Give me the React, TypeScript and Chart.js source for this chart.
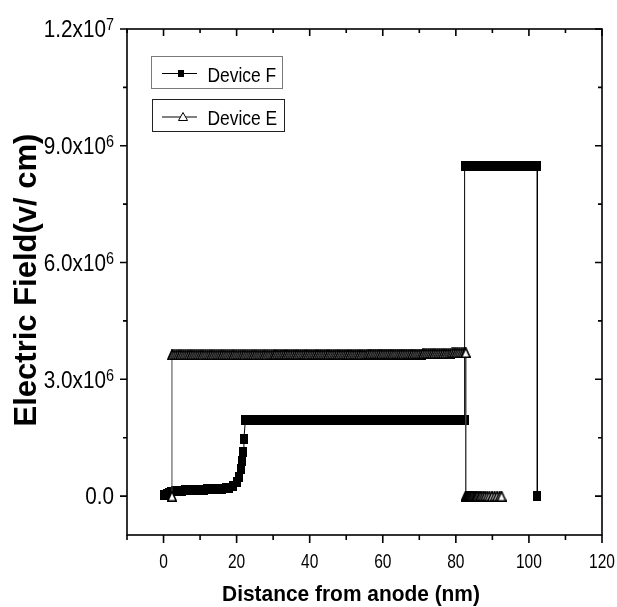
import React, { useEffect, useRef } from "react";
import { Chart, registerables } from "chart.js";

Chart.register(...registerables);

// ---------------- data ----------------
const seriesNames = ["Device F", "Device E"];

const xF = [
  0, 0.5, 1, 1.5, 2, 3, 4, 5, 6, 7,
  8, 9, 10, 11, 12, 13, 14, 15, 16, 17,
  18, 19, 20, 20.7, 21.2, 21.6, 21.8, 22,
  22.4, 23, 24, 25, 26, 27, 28, 29, 30, 31,
  32, 33, 34, 35, 36, 37, 38, 39, 40, 41,
  42, 43, 44, 45, 46, 47, 48, 49, 50, 51,
  52, 53, 54, 55, 56, 57, 58, 59, 60, 61,
  62, 63, 64, 65, 66, 67, 68, 69, 70, 71,
  72, 73, 74, 75, 76, 77, 78, 79, 80, 81,
  82, 82.4,
  82.4, 83, 84, 85, 86, 87, 88, 89, 90, 91,
  92, 93, 94, 95, 96, 97, 98, 99, 100, 101,
  102, 102.3,
  102.3,
];
const yF = [
  0.02e6, 0.03e6, 0.05e6, 0.08e6, 0.11e6, 0.13e6, 0.14e6, 0.14e6, 0.15e6, 0.15e6,
  0.15e6, 0.16e6, 0.16e6, 0.16e6, 0.17e6, 0.17e6, 0.18e6, 0.18e6, 0.19e6, 0.2e6,
  0.22e6, 0.27e6, 0.36e6, 0.5e6, 0.7e6, 0.9e6, 1.13e6, 1.47e6,
  1.96e6, 1.96e6, 1.96e6, 1.96e6, 1.96e6, 1.96e6, 1.96e6, 1.96e6, 1.96e6, 1.96e6,
  1.96e6, 1.96e6, 1.96e6, 1.96e6, 1.96e6, 1.96e6, 1.96e6, 1.96e6, 1.96e6, 1.96e6,
  1.96e6, 1.96e6, 1.96e6, 1.96e6, 1.96e6, 1.96e6, 1.96e6, 1.96e6, 1.96e6, 1.96e6,
  1.96e6, 1.96e6, 1.96e6, 1.96e6, 1.96e6, 1.96e6, 1.96e6, 1.96e6, 1.96e6, 1.96e6,
  1.96e6, 1.96e6, 1.96e6, 1.96e6, 1.96e6, 1.96e6, 1.96e6, 1.96e6, 1.96e6, 1.96e6,
  1.96e6, 1.96e6, 1.96e6, 1.96e6, 1.96e6, 1.96e6, 1.96e6, 1.96e6, 1.96e6, 1.96e6,
  1.96e6, 1.96e6,
  8.48e6, 8.48e6, 8.48e6, 8.48e6, 8.48e6, 8.48e6, 8.48e6, 8.48e6, 8.48e6, 8.48e6,
  8.48e6, 8.48e6, 8.48e6, 8.48e6, 8.48e6, 8.48e6, 8.48e6, 8.48e6, 8.48e6, 8.48e6,
  8.48e6, 8.48e6,
  0,
];

const xE = [
  2.3, 2.3,
  2.5, 3, 3.5, 4, 4.5, 5, 5.5, 6, 6.5, 7,
  7.5, 8, 8.5, 9, 9.5, 10, 10.5, 11, 11.5, 12,
  12.5, 13, 13.5, 14, 14.5, 15, 15.5, 16, 16.5, 17,
  17.5, 18, 18.5, 19, 19.5, 20, 20.5, 21, 21.5, 22,
  22.5, 23, 23.5, 24, 24.5, 25, 25.5, 26, 26.5, 27,
  27.5, 28, 28.5, 29, 29.5, 30, 30.5, 31, 31.5, 32,
  32.5, 33, 33.5, 34, 34.5, 35, 35.5, 36, 36.5, 37,
  37.5, 38, 38.5, 39, 39.5, 40, 40.5, 41, 41.5, 42,
  42.5, 43, 43.5, 44, 44.5, 45, 45.5, 46, 46.5, 47,
  47.5, 48, 48.5, 49, 49.5, 50, 50.5, 51, 51.5, 52,
  52.5, 53, 53.5, 54, 54.5, 55, 55.5, 56, 56.5, 57,
  57.5, 58, 58.5, 59, 59.5, 60, 60.5, 61, 61.5, 62,
  62.5, 63, 63.5, 64, 64.5, 65, 65.5, 66, 66.5, 67,
  67.5, 68, 68.5, 69, 69.5, 70, 70.5, 71, 71.5, 72,
  72.5, 73, 73.5, 74, 74.5, 75, 75.5, 76, 76.5, 77,
  77.5, 78, 78.5, 79, 79.5, 80, 80.5, 81, 81.5, 82,
  82.5,
  82.7, 82.7,
  82.8, 82.9, 83, 83.1, 83.2, 83.35, 83.5, 83.65, 83.8, 84,
  84.2, 84.4, 84.6, 84.9, 85.2, 85.5, 85.8, 86.2, 86.6, 87,
  87.5, 88, 88.6, 89.2, 89.9, 90.6, 91.3, 92, 92.5,
];
const yE = [
  0, 3.63e6,
  3.63e6, 3.63e6, 3.63e6, 3.63e6, 3.63e6, 3.63e6, 3.63e6, 3.63e6, 3.63e6, 3.63e6,
  3.63e6, 3.63e6, 3.63e6, 3.63e6, 3.63e6, 3.63e6, 3.63e6, 3.63e6, 3.63e6, 3.63e6,
  3.63e6, 3.63e6, 3.63e6, 3.63e6, 3.63e6, 3.63e6, 3.63e6, 3.63e6, 3.63e6, 3.63e6,
  3.63e6, 3.63e6, 3.63e6, 3.63e6, 3.63e6, 3.63e6, 3.63e6, 3.63e6, 3.63e6, 3.63e6,
  3.63e6, 3.63e6, 3.63e6, 3.63e6, 3.63e6, 3.63e6, 3.63e6, 3.63e6, 3.63e6, 3.63e6,
  3.63e6, 3.63e6, 3.63e6, 3.63e6, 3.63e6, 3.63e6, 3.64e6, 3.64e6, 3.64e6, 3.64e6,
  3.64e6, 3.64e6, 3.64e6, 3.64e6, 3.64e6, 3.64e6, 3.64e6, 3.64e6, 3.64e6, 3.64e6,
  3.64e6, 3.64e6, 3.64e6, 3.64e6, 3.64e6, 3.64e6, 3.64e6, 3.64e6, 3.64e6, 3.64e6,
  3.64e6, 3.64e6, 3.64e6, 3.64e6, 3.64e6, 3.64e6, 3.64e6, 3.64e6, 3.64e6, 3.64e6,
  3.64e6, 3.64e6, 3.64e6, 3.64e6, 3.64e6, 3.64e6, 3.64e6, 3.64e6, 3.64e6, 3.64e6,
  3.64e6, 3.64e6, 3.64e6, 3.64e6, 3.64e6, 3.64e6, 3.64e6, 3.65e6, 3.65e6, 3.65e6,
  3.65e6, 3.65e6, 3.65e6, 3.65e6, 3.65e6, 3.65e6, 3.65e6, 3.65e6, 3.65e6, 3.65e6,
  3.65e6, 3.65e6, 3.65e6, 3.65e6, 3.65e6, 3.65e6, 3.65e6, 3.65e6, 3.65e6, 3.65e6,
  3.65e6, 3.65e6, 3.65e6, 3.65e6, 3.65e6, 3.65e6, 3.65e6, 3.66e6, 3.66e6, 3.66e6,
  3.66e6, 3.66e6, 3.66e6, 3.66e6, 3.66e6, 3.66e6, 3.66e6, 3.66e6, 3.66e6, 3.66e6,
  3.66e6, 3.66e6, 3.66e6, 3.68e6, 3.68e6, 3.68e6, 3.68e6, 3.68e6, 3.68e6, 3.68e6,
  3.68e6,
  3.69e6, 0,
  0, 0, 0, 0, 0, 0, 0, 0, 0, 0,
  0, 0, 0, 0, 0, 0, 0, 0, 0, 0,
  0, 0, 0, 0, 0, 0, 0, 0, 0,
];

const xMajorTicks = [0, 20, 40, 60, 80, 100, 120];
const xMinorTicks = [-10, 10, 30, 50, 70, 90, 110];
const yMajorTicks = [0, 3e6, 6e6, 9e6, 1.2e7];
const yMinorTicks = [1.5e6, 4.5e6, 7.5e6, 1.05e7];
const yTickMantissa = ["0.0", "3.0x10", "6.0x10", "9.0x10", "1.2x10"];
const yTickExponent = ["", "6", "6", "6", "7"];
const xTitle = "Distance from anode (nm)";
const yTitle = "Electric Field(v/ cm)";

const FONT = '"Liberation Sans", Arial, sans-serif';

function drawText(
  ctx: CanvasRenderingContext2D,
  s: string,
  x: number,
  y: number,
  font: string,
  align: CanvasTextAlign,
  sx: number
) {
  ctx.save();
  ctx.font = font;
  ctx.translate(x, y);
  ctx.scale(sx, 1);
  ctx.textAlign = align;
  ctx.textBaseline = "alphabetic";
  ctx.fillStyle = "#000";
  ctx.fillText(s, 0, 0);
  ctx.restore();
}

function makeSquare(w: number, h: number) {
  const c = document.createElement("canvas");
  c.width = w;
  c.height = h;
  const g = c.getContext("2d")!;
  g.fillStyle = "#000";
  g.fillRect(0, 0, w, h);
  return c;
}

function makeTriangle(w: number, h: number) {
  const c = document.createElement("canvas");
  c.width = w;
  c.height = h;
  const g = c.getContext("2d")!;
  g.beginPath();
  g.moveTo(w / 2, 0.8);
  g.lineTo(w - 0.8, h - 0.8);
  g.lineTo(0.8, h - 0.8);
  g.closePath();
  g.fillStyle = "#fff";
  g.fill();
  g.strokeStyle = "#000";
  g.lineWidth = 1.6;
  g.stroke();
  return c;
}

const decorPlugin = {
  id: "decor",
  afterDraw(chart: any) {
    const ctx: CanvasRenderingContext2D = chart.ctx;
    const { left, right, top, bottom } = chart.chartArea;
    const xs = chart.scales.x;
    const ys = chart.scales.y;
    ctx.save();
    ctx.strokeStyle = "#000";
    ctx.lineWidth = 1.6;
    ctx.strokeRect(left, top, right - left, bottom - top);

    ctx.beginPath();
    for (const v of xMajorTicks) {
      const px = xs.getPixelForValue(v);
      ctx.moveTo(px, bottom);
      ctx.lineTo(px, bottom + 8);
      ctx.moveTo(px, top);
      ctx.lineTo(px, top + 7);
    }
    for (const v of xMinorTicks) {
      const px = xs.getPixelForValue(v);
      ctx.moveTo(px, bottom);
      ctx.lineTo(px, bottom + 5);
      ctx.moveTo(px, top);
      ctx.lineTo(px, top + 4);
    }
    for (const v of yMajorTicks) {
      const py = ys.getPixelForValue(v);
      ctx.moveTo(left, py);
      ctx.lineTo(left - 7, py);
      ctx.moveTo(right, py);
      ctx.lineTo(right - 7, py);
    }
    for (const v of yMinorTicks) {
      const py = ys.getPixelForValue(v);
      ctx.moveTo(left, py);
      ctx.lineTo(left - 4, py);
      ctx.moveTo(right, py);
      ctx.lineTo(right - 4, py);
    }
    ctx.stroke();

    // x tick labels
    for (const v of xMajorTicks) {
      const px = xs.getPixelForValue(v);
      drawText(ctx, String(v), px, 567.5, `21px ${FONT}`, "center", 0.74);
    }
    // y tick labels with superscript exponents
    const rightEdge = 114;
    const baseFont = `23px ${FONT}`;
    const supFont = `16px ${FONT}`;
    const sx = 0.9;
    yMajorTicks.forEach((v, i) => {
      const py = ys.getPixelForValue(v);
      const base = yTickMantissa[i];
      const sup = yTickExponent[i];
      ctx.font = supFont;
      const supW = sup ? ctx.measureText(sup).width * sx : 0;
      ctx.font = baseFont;
      const baseW = ctx.measureText(base).width * sx;
      const baseline = py + 8.3;
      drawText(ctx, base, rightEdge - supW - baseW, baseline, baseFont, "left", sx);
      if (sup) drawText(ctx, sup, rightEdge - supW, baseline - 7, supFont, "left", sx);
    });

    // axis titles
    drawText(ctx, xTitle, 351, 601, `bold 22px ${FONT}`, "center", 0.95);
    ctx.save();
    ctx.translate(36, 280);
    ctx.rotate(-Math.PI / 2);
    ctx.font = `bold 31px ${FONT}`;
    ctx.textAlign = "center";
    ctx.textBaseline = "alphabetic";
    ctx.fillStyle = "#000";
    ctx.fillText(yTitle, 0, 0);
    ctx.restore();

    // legend boxes
    const names = chart.data.datasets.map((d: any) => d.label);
    const boxes = [
      { x: 151, y: 56, w: 131, h: 32, border: "#7a7a7a", ly: 73.5, ty: 81.5, name: names[1], kind: "square", mx: 181 },
      { x: 152, y: 99, w: 132, h: 32, border: "#222", ly: 117, ty: 125, name: names[0], kind: "triangle", mx: 183 },
    ];
    for (const b of boxes) {
      ctx.fillStyle = "#fff";
      ctx.fillRect(b.x, b.y, b.w, b.h);
      ctx.strokeStyle = b.border;
      ctx.lineWidth = 1;
      ctx.strokeRect(b.x + 0.5, b.y + 0.5, b.w, b.h);
      ctx.strokeStyle = "#000";
      ctx.beginPath();
      ctx.moveTo(162, b.ly);
      ctx.lineTo(197, b.ly);
      ctx.stroke();
      if (b.kind === "square") {
        ctx.fillStyle = "#000";
        ctx.fillRect(b.mx - 3, b.ly - 3.5, 6, 7);
      } else {
        ctx.beginPath();
        ctx.moveTo(b.mx, b.ly - 4.5);
        ctx.lineTo(b.mx + 4.5, b.ly + 3.5);
        ctx.lineTo(b.mx - 4.5, b.ly + 3.5);
        ctx.closePath();
        ctx.fillStyle = "#fff";
        ctx.fill();
        ctx.strokeStyle = "#000";
        ctx.stroke();
      }
      drawText(ctx, b.name, 207.5, b.ty, `21px ${FONT}`, "left", 0.83);
    }
    ctx.restore();
  },
};

export default function App() {
  const ref = useRef<HTMLCanvasElement | null>(null);
  useEffect(() => {
    if (!ref.current) return;
    const sq = makeSquare(8, 10);
    const tri = makeTriangle(10, 11);
    const chart = new Chart(ref.current, {
      type: "scatter",
      data: {
        datasets: [
          {
            label: seriesNames[1],
            data: xE.map((x, i) => ({ x, y: yE[i] })),
            showLine: true,
            borderColor: "#444",
            borderWidth: 1,
            pointStyle: tri as any,
            pointRadius: 5,
            order: 0,
          },
          {
            label: seriesNames[0],
            data: xF.map((x, i) => ({ x, y: yF[i] })),
            showLine: true,
            borderColor: "#000",
            borderWidth: 1,
            pointStyle: sq as any,
            pointRadius: 5,
            order: 1,
          },
        ],
      },
      options: {
        animation: false,
        responsive: false,
        devicePixelRatio: 1,
        layout: { padding: { left: 127, top: 29, right: 15, bottom: 72 } },
        scales: {
          x: { type: "linear", min: -10, max: 120, display: false },
          y: { type: "linear", min: -1e6, max: 1.2e7, display: false },
        },
        plugins: { legend: { display: false }, tooltip: { enabled: false } },
      },
      plugins: [decorPlugin],
    });
    return () => chart.destroy();
  }, []);
  return (
    <div style={{ position: "absolute", left: 0, top: 0, width: 617, height: 607, background: "#fff" }}>
      <canvas ref={ref} width={617} height={607} style={{ width: 617, height: 607, display: "block" }} />
    </div>
  );
}
